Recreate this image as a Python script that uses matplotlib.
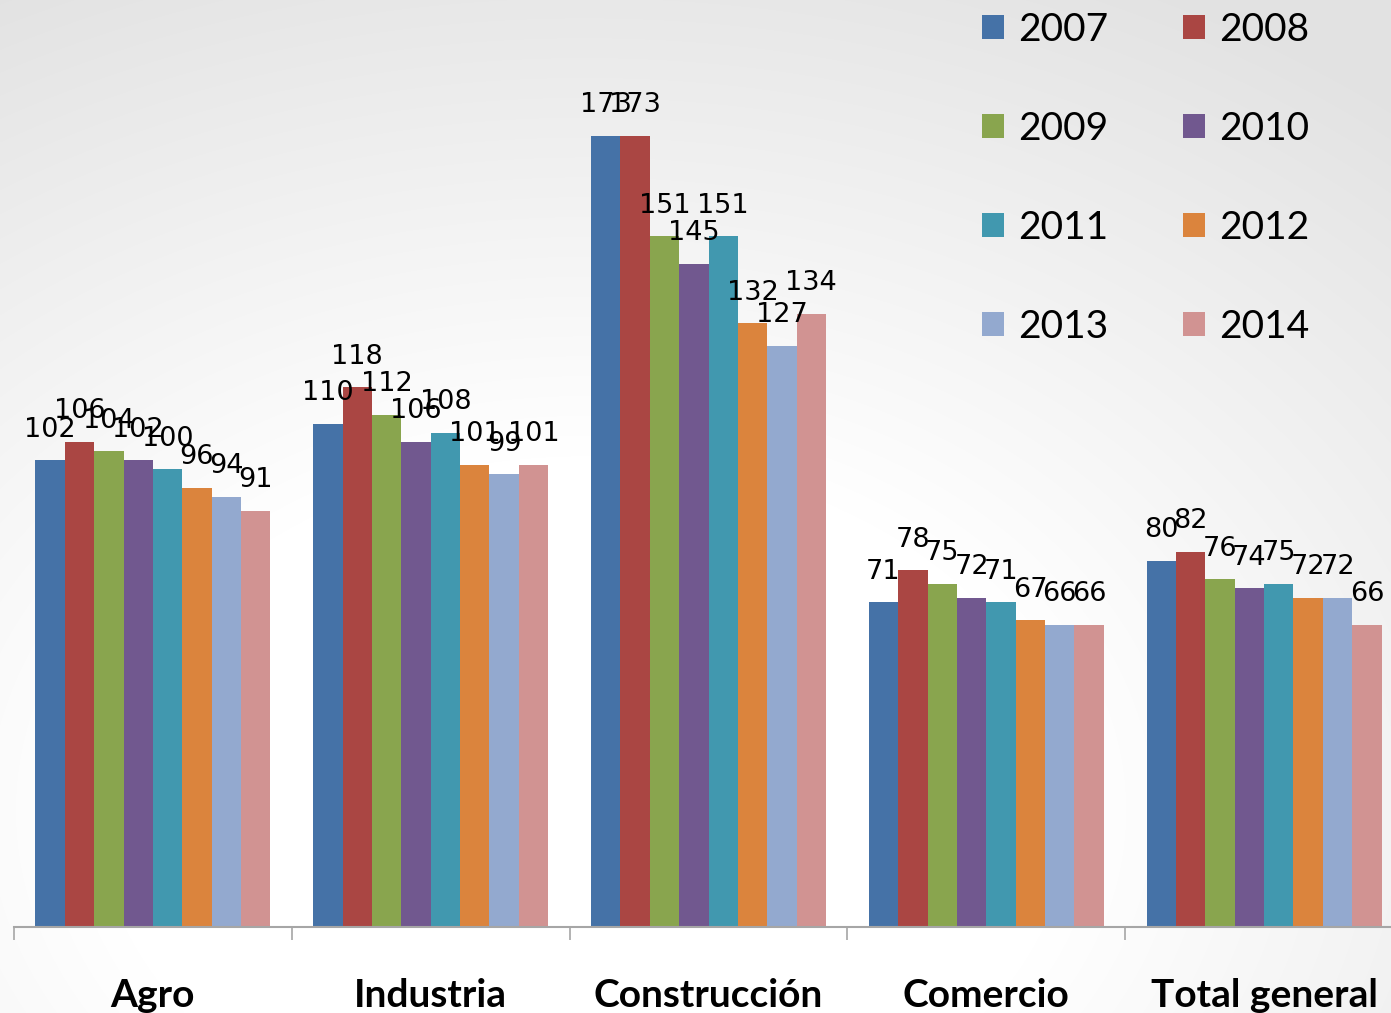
import numpy as np
import matplotlib
matplotlib.use("Agg")
import matplotlib.pyplot as plt
from matplotlib.patches import Patch

categories = ["Agro", "Industria", "Construcción", "Comercio", "Total general"]
years = ["2007", "2008", "2009", "2010", "2011", "2012", "2013", "2014"]
values = {
    "2007": [102, 110, 173, 71, 80],
    "2008": [106, 118, 173, 78, 82],
    "2009": [104, 112, 151, 75, 76],
    "2010": [102, 106, 145, 72, 74],
    "2011": [100, 108, 151, 71, 75],
    "2012": [96, 101, 132, 67, 72],
    "2013": [94, 99, 127, 66, 72],
    "2014": [91, 101, 134, 66, 66],
}
colors = ["#4572A7", "#AA4643", "#89A54E", "#71588F",
          "#4198AF", "#DB843D", "#93A9CF", "#D19392"]

W, H = 1391, 1013
fig = plt.figure(figsize=(W / 100, H / 100), dpi=100)

# background gradient
bg = fig.add_axes([0, 0, 1, 1])
yy, xx = np.mgrid[0:H, 0:W]
cx, cy = 0.42 * W, 0.80 * H
r = np.sqrt(((xx - cx) / W) ** 2 + ((yy - cy) / H) ** 2)
t = np.clip((r - 0.35) / 0.55, 0, 1)
g = 1.0 - 0.11 * t
bg.imshow(np.dstack([g, g, g]), extent=[0, 1, 0, 1], aspect="auto", origin="upper")
bg.set_axis_off()
bg.set_zorder(0)

base_px = 927
scale = 4.575
ax = fig.add_axes([14 / W, (H - base_px) / H, 1389 / W, base_px / H])
ax.set_zorder(1)
ax.patch.set_alpha(0)

n = len(years)
bw = 0.1058
x = np.arange(len(categories))
handles = {}
for i, (yr, c) in enumerate(zip(years, colors)):
    pos = x + (i - (n - 1) / 2) * bw
    ax.bar(pos, values[yr], width=bw, color=c, edgecolor="none", label=yr)
    for xp, v in zip(pos, values[yr]):
        ax.annotate(str(v), (xp, v), xytext=(0, 22), textcoords="offset points",
                    ha="center", va="center", fontsize=19.5, color="black",
                    family="DejaVu Sans")
    handles[yr] = Patch(facecolor=c, edgecolor="none", label=yr)

ax.set_xlim(-0.5, 4.5)
ax.set_ylim(0, base_px / scale)
ax.set_yticks([])
for s in ["top", "right", "left"]:
    ax.spines[s].set_visible(False)
ax.spines["bottom"].set_color("#a6a6a6")
ax.spines["bottom"].set_linewidth(1.5)

ax.set_xticks(x)
ax.set_xticklabels(categories, fontsize=28, fontweight="bold", family="Lato")
ax.tick_params(axis="x", which="major", length=0, pad=37)
ax.set_xticks(np.arange(-0.5, 5.0, 1.0), minor=True)
ax.tick_params(axis="x", which="minor", length=9.5, width=1.2, color="#a6a6a6",
               direction="out")

# legend filled row by row (2 columns)
order = years[0::2] + years[1::2]
leg = ax.legend(handles=[handles[y] for y in order], ncol=2, loc="upper left",
                bbox_to_anchor=(982 / W, 1.0 - 12 / H), bbox_transform=fig.transFigure,
                frameon=False, prop={"family": "Lato", "size": 28},
                handlelength=0.57, handleheight=0.57, handletextpad=0.35,
                labelspacing=1.62, columnspacing=1.93, borderaxespad=0.0,
                borderpad=0.0)

fig.savefig("out.png", dpi=100)
